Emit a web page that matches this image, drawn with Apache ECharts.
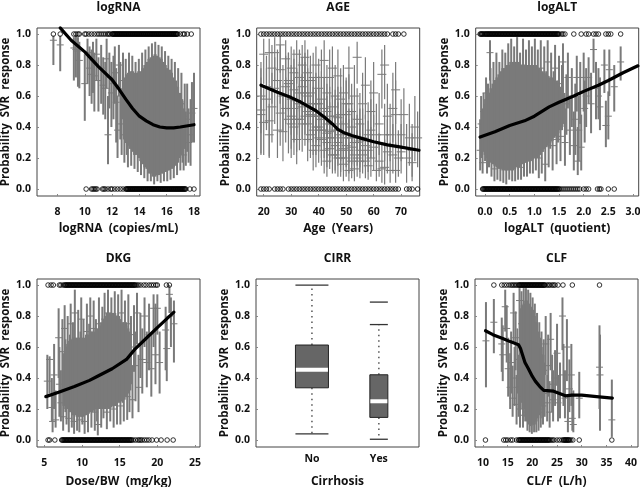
<!DOCTYPE html>
<html><head><meta charset="utf-8"><style>html,body{margin:0;padding:0;background:#fff}#c{width:640px;height:487px}</style>
<script src="https://cdn.jsdelivr.net/npm/echarts@6/dist/echarts.min.js"></script></head>
<body><div id="c"></div><script>
const titles=["logRNA","AGE","logALT","DKG","CIRR","CLF"];
const xNames=["logRNA  (copies/mL)","Age  (Years)","logALT  (quotient)","Dose/BW  (mg/kg)","Cirrhosis","CL/F  (L/h)"];
const yName="Probability  SVR  response";
const yTicks=[0,.2,.4,.6,.8,1];
const xTicks1=[8,10,12,14,16,18],xTicks2=[20,30,40,50,60,70],xTicks3=[0,.5,1,1.5,2,2.5,3],xTicks4=[5,10,15,20,25],xTicks6=[10,15,20,25,30,35,40];
const cirrLabels=["No","Yes"];
// [x, mean, low, high]
const rnaBars=[[7.7,.96,.8,.99],[8.2,.93,.76,.99],[9.2,.91,.7,.98],[9.35,.9,.72,.99],[9.5,.89,.66,.98],[9.6,.83,.65,.95],[10,.68,.44,.87],[10.2,.88,.68,.97],[10.35,.78,.6,.92],[10.5,.74,.55,.9],[10.6,.83,.62,.95],[10.7,.73,.5,.88],[10.85,.87,.7,.97],[11,.7,.5,.85],[11.2,.78,.55,.93],[11.35,.67,.48,.85],[11.5,.65,.45,.82],[11.6,.84,.65,.97],[11.7,.35,.16,.6],[11.8,.72,.52,.88],[11.95,.62,.4,.82],[12.1,.68,.45,.86],[12.2,.75,.55,.92],[12.3,.56,.3,.78],[12.4,.38,.2,.6],[12.5,.8,.6,.93],[12.6,.6,.32,.82],[12.7,.42,.22,.65],[12.8,.7,.45,.88],[12.9,.35,.17,.58],[13,.62,.4,.84],[13.08,.42,.22,.66],[13.16,.3,.14,.52],[13.24,.68,.45,.88],[13.32,.48,.26,.7],[13.4,.3,.15,.5],[13.48,.66,.42,.86],[13.56,.5,.27,.72],[13.64,.28,.13,.5],[13.72,.62,.38,.82],[13.8,.45,.24,.68],[13.88,.27,.11,.48],[13.96,.64,.4,.84],[14.04,.5,.26,.72],[14.12,.24,.09,.46],[14.2,.68,.42,.88],[14.28,.44,.22,.66],[14.36,.22,.07,.44],[14.44,.7,.46,.9],[14.52,.47,.24,.7],[14.6,.2,.05,.42],[14.68,.72,.47,.92],[14.76,.45,.22,.68],[14.84,.21,.05,.43],[14.92,.73,.48,.94],[15,.44,.2,.68],[15.08,.2,.03,.42],[15.16,.74,.5,.95],[15.24,.43,.2,.67],[15.32,.2,.05,.42],[15.4,.72,.48,.93],[15.48,.42,.2,.66],[15.56,.2,.04,.42],[15.64,.72,.46,.92],[15.72,.44,.2,.68],[15.8,.2,.05,.42],[15.88,.68,.44,.89],[15.96,.44,.2,.66],[16.04,.2,.05,.42],[16.12,.66,.42,.86],[16.2,.42,.19,.64],[16.28,.22,.06,.43],[16.36,.62,.4,.84],[16.44,.42,.2,.65],[16.52,.23,.07,.44],[16.6,.62,.38,.82],[16.68,.4,.2,.63],[16.76,.24,.09,.44],[16.84,.56,.34,.78],[16.92,.4,.2,.62],[17,.25,.12,.45],[17.08,.55,.32,.75],[17.16,.36,.17,.57],[17.24,.22,.12,.42],[17.32,.47,.26,.68],[17.4,.3,.15,.5],[17.5,.45,.24,.68],[17.6,.3,.17,.52],[17.75,.35,.15,.58],[17.85,.49,.3,.69],[18,.52,.3,.75]];
// dense middle of each cloud: [x, low, high]
const rnaCore=[[12.9,.32,.72],[13.05,.3,.74],[13.2,.28,.75],[13.35,.26,.76],[13.5,.24,.76],[13.65,.22,.75],[13.8,.22,.75],[13.95,.2,.76],[14.1,.18,.76],[14.25,.16,.78],[14.4,.14,.8],[14.55,.13,.82],[14.7,.1,.84],[14.85,.1,.85],[15,.08,.86],[15.15,.08,.87],[15.3,.09,.86],[15.45,.09,.85],[15.6,.1,.84],[15.75,.1,.82],[15.9,.11,.8],[16.05,.12,.78],[16.2,.12,.77],[16.35,.13,.75],[16.5,.14,.72],[16.65,.15,.7],[16.8,.17,.66],[16.95,.2,.62],[17.1,.22,.58],[17.25,.26,.52]];
const rnaHit=[7.7,8.2,9.2,9.35,9.5,9.6,10,10.1,10.3,10.5,10.7,10.9,11.05,11.2,11.35,11.5,11.65,11.75,11.85,12,12.1,12.2,12.3,12.4,12.5,12.6,12.7,12.8,12.9,13,13.1,13.2,13.3,13.4,13.5,13.6,13.7,13.8,13.9,14,14.1,14.2,14.3,14.4,14.5,14.6,14.7,14.8,14.9,15,15.1,15.2,15.3,15.4,15.5,15.6,15.7,15.8,15.9,16,16.1,16.2,16.3,16.4,16.5,16.6,16.7,16.8,17,17.2,17.3,17.5,17.8];
const rnaHit2=[12.05,12.15,12.25,12.35,12.45,12.55,12.65,12.75,12.85,12.95,13.05,13.15,13.25,13.35,13.45,13.55,13.65,13.75,13.85,13.95,14.05,14.15,14.25,14.35,14.45,14.55,14.65,14.75,14.85,14.95,15.05,15.15,15.25,15.35,15.45,15.55,15.65,15.75,15.85,15.95,16.05,16.15,16.25,16.35,16.45,16.55,16.65,16.75];
const rnaMiss=[10.1,10.5,10.6,10.7,10.8,10.9,11.3,11.4,11.5,11.7,11.9,12,12.2,12.4,12.6,12.8,13,13.1,13.2,13.3,13.4,13.5,13.6,13.7,13.8,13.9,14,14.1,14.2,14.3,14.4,14.5,14.6,14.7,14.8,14.9,15,15.1,15.2,15.3,15.4,15.5,15.6,15.7,15.8,15.9,16,16.1,16.2,16.3,16.4,16.5,16.6,16.7,16.8,16.9,17,17.1,17.2,17.3,17.4,17.7,18];
const rnaMiss2=[13.05,13.15,13.25,13.35,13.45,13.55,13.65,13.75,13.85,13.95,14.05,14.15,14.25,14.35,14.45,14.55,14.65,14.75,14.85,14.95,15.05,15.15,15.25,15.35,15.45,15.55,15.65,15.75,15.85,15.95,16.05,16.15,16.25,16.35,16.45,16.55,16.65,16.75,16.85,16.95,17.05,17.15,17.25,17.35];
const rnaCurve=[[8.2,1.04],[9,.96],[10,.885],[11,.79],[12,.705],[12.5,.645],[13,.58],[13.5,.52],[14,.47],[14.5,.44],[15,.415],[15.5,.4],[16,.395],[16.5,.395],[17,.4],[18,.415]];
const ageBars=[[19,.51,.23,.78],[19,.48,.22,.72],[19,.6,.36,.82],[20,.87,.68,.97],[20,.43,.22,.65],[21,.58,.38,.78],[21,.66,.42,.86],[22,.44,.21,.68],[22,.88,.68,.97],[22,.35,.2,.55],[23,.78,.55,.93],[23,.53,.3,.75],[24,.65,.42,.85],[24,.88,.7,.98],[25,.38,.2,.6],[25,.7,.5,.9],[26,.93,.75,.99],[26,.49,.28,.7],[26,.77,.55,.93],[27,.6,.37,.8],[27,.37,.18,.6],[28,.84,.62,.96],[28,.52,.3,.72],[29,.68,.45,.88],[29,.45,.23,.68],[29,.7,.5,.88],[30,.58,.35,.8],[30,.42,.2,.65],[30,.78,.6,.92],[31,.52,.3,.72],[31,.64,.42,.84],[31,.4,.22,.6],[32,.87,.68,.96],[32,.57,.35,.78],[32,.32,.16,.55],[33,.72,.5,.9],[33,.45,.25,.68],[33,.62,.4,.82],[34,.8,.6,.93],[34,.53,.32,.74],[34,.42,.24,.62],[35,.85,.65,.96],[35,.62,.42,.82],[35,.47,.28,.66],[35,.7,.5,.88],[36,.75,.55,.9],[36,.5,.3,.7],[36,.42,.25,.62],[37,.62,.42,.8],[37,.35,.2,.56],[37,.48,.3,.68],[38,.72,.52,.88],[38,.47,.3,.66],[38,.25,.12,.45],[39,.8,.6,.92],[39,.55,.35,.75],[39,.4,.22,.6],[39,.28,.14,.46],[40,.65,.44,.84],[40,.47,.3,.65],[40,.33,.17,.52],[41,.72,.5,.9],[41,.45,.27,.64],[41,.32,.15,.52],[41,.58,.38,.76],[42,.83,.62,.96],[42,.52,.32,.72],[42,.38,.2,.58],[42,.25,.1,.45],[43,.62,.4,.8],[43,.42,.25,.6],[43,.3,.14,.5],[43,.18,.08,.38],[44,.72,.5,.9],[44,.37,.2,.56],[44,.26,.13,.44],[45,.78,.58,.92],[45,.53,.33,.72],[45,.33,.18,.52],[45,.22,.1,.4],[46,.6,.4,.8],[46,.38,.2,.58],[46,.28,.12,.48],[47,.73,.52,.9],[47,.46,.28,.66],[47,.2,.08,.38],[47,.3,.15,.5],[48,.58,.38,.78],[48,.35,.18,.56],[48,.25,.11,.44],[49,.62,.42,.8],[49,.33,.16,.54],[49,.16,.05,.34],[49,.26,.12,.44],[50,.48,.28,.7],[50,.28,.14,.46],[50,.2,.08,.38],[51,.78,.58,.92],[51,.55,.35,.74],[51,.25,.1,.45],[51,.12,.05,.3],[52,.4,.22,.6],[52,.27,.12,.46],[52,.18,.07,.35],[53,.6,.4,.8],[53,.3,.15,.5],[53,.13,.05,.3],[54,.85,.68,.95],[54,.45,.25,.65],[54,.2,.08,.38],[55,.42,.24,.62],[55,.31,.14,.52],[55,.18,.07,.36],[56,.55,.35,.75],[56,.22,.1,.42],[57,.67,.45,.85],[57,.28,.14,.48],[58,.35,.18,.56],[58,.15,.06,.32],[59,.5,.3,.7],[59,.2,.08,.4],[60,.62,.4,.82],[60,.27,.12,.48],[61,.35,.18,.55],[61,.12,.05,.28],[62,.18,.08,.36],[62,.42,.22,.62],[63,.74,.52,.9],[63,.13,.04,.3],[64,.8,.58,.93],[64,.35,.18,.55],[64,.14,.03,.32],[65,.47,.26,.68],[65,.24,.1,.45],[66,.35,.18,.55],[66,.12,.04,.3],[67,.52,.3,.75],[67,.22,.1,.42],[68,.64,.42,.82],[68,.12,.04,.3],[68,.48,.26,.7],[69,.2,.08,.38],[70,.35,.18,.58],[70,.24,.1,.42],[71,.48,.28,.65],[72,.2,.04,.42],[73,.33,.15,.55],[74,.17,.05,.36],[74,.25,.08,.42],[75,.4,.18,.6],[76,.33,.14,.5],
[28,.66,.42,.86],[30,.47,.26,.7],[31,.75,.55,.9],[32,.45,.24,.66],[33,.55,.33,.75],[34,.66,.45,.85],[35,.55,.35,.74],[36,.6,.4,.78],[36,.32,.18,.5],[37,.7,.5,.86],[38,.55,.36,.72],[38,.38,.22,.56],[39,.47,.3,.64],[40,.55,.36,.73],[40,.4,.24,.58],[41,.38,.2,.56],[42,.45,.28,.62],[43,.5,.32,.68],[43,.36,.2,.54],[44,.47,.3,.66],[44,.33,.17,.5],[45,.42,.26,.6],[46,.47,.3,.64],[46,.22,.1,.38],[47,.38,.22,.56],[48,.48,.3,.66],[48,.2,.08,.36],[49,.42,.26,.6],[50,.36,.2,.54],[50,.55,.36,.72],[51,.33,.17,.52],[52,.33,.16,.52],[52,.5,.3,.68],[53,.22,.1,.4],[54,.3,.15,.48],[55,.25,.11,.44],[56,.33,.17,.52],[57,.18,.07,.34],[58,.25,.11,.44],[59,.38,.2,.58]];
const ageHit=[19,20,21,22,23,24,25,26,27,28,29,30,31,32,33,34,35,36,37,38,39,40,41,42,43,44,45,46,47,48,49,50,51,52,53,54,55,56,57,58,59,60,61,62,63,64,65,67,68,69,71];
const ageMiss=[19,20,21,22,24,25,26,27,29,30,31,32,33,34,35,36,37,38,39,40,41,42,43,44,45,46,47,48,49,50,51,52,53,54,55,56,57,58,59,60,61,62,63,64,65,66,67,68,69,72,73,74,76];
const ageCurve=[[19,.67],[25,.625],[30,.59],[33,.565],[36,.535],[39,.505],[42,.465],[45,.42],[47,.385],[49,.365],[52,.345],[55,.33],[60,.305],[65,.285],[70,.27],[76.5,.25]];
const altBars=[[-.1,.25,.12,.45],[-.08,.42,.2,.6],[-.05,.17,.1,.38],[-.03,.5,.3,.62],[0,.36,.18,.58],[.02,.62,.4,.72],[.04,.25,.1,.42],[.06,.46,.25,.68],[.08,.3,.14,.52],[.1,.88,.7,.96],[.11,.58,.36,.78],[.13,.2,.08,.38],[.15,.42,.22,.64],[.17,.6,.38,.82],[.19,.13,.05,.33],[.21,.35,.16,.56],[.23,.7,.45,.88],[.25,.22,.06,.42],[.27,.48,.25,.7],[.29,.62,.4,.82],[.31,.14,.05,.34],[.33,.38,.18,.6],[.35,.72,.5,.9],[.37,.2,.04,.4],[.39,.5,.28,.72],[.41,.68,.45,.88],[.43,.14,.03,.35],[.45,.36,.17,.58],[.47,.74,.52,.94],[.49,.2,.06,.42],[.51,.52,.28,.74],[.53,.76,.55,.97],[.55,.16,.05,.36],[.57,.4,.2,.62],[.59,.72,.5,.92],[.61,.15,.05,.35],[.63,.55,.32,.76],[.65,.77,.56,.98],[.67,.2,.06,.42],[.69,.36,.18,.6],[.71,.68,.45,.88],[.73,.14,.06,.34],[.75,.5,.28,.72],[.77,.8,.58,.97],[.79,.2,.08,.42],[.81,.38,.18,.6],[.83,.7,.48,.9],[.85,.18,.08,.38],[.87,.52,.3,.74],[.89,.76,.55,.96],[.91,.22,.1,.44],[.93,.4,.2,.62],[.95,.72,.5,.92],[.97,.2,.1,.42],[.99,.55,.32,.78],[1.01,.78,.58,.97],[1.03,.26,.12,.48],[1.05,.42,.22,.64],[1.07,.7,.48,.9],[1.09,.2,.07,.42],[1.11,.55,.32,.76],[1.13,.78,.55,.96],[1.15,.26,.1,.48],[1.17,.44,.24,.66],[1.2,.72,.5,.92],[1.22,.16,.05,.36],[1.24,.55,.34,.76],[1.27,.82,.6,.96],[1.29,.32,.14,.52],[1.32,.46,.26,.68],[1.34,.7,.5,.88],[1.37,.28,.12,.48],[1.39,.56,.34,.76],[1.42,.78,.58,.93],[1.45,.32,.16,.54],[1.48,.5,.3,.7],[1.5,.68,.48,.86],[1.53,.34,.18,.54],[1.56,.6,.38,.8],[1.58,.82,.62,.94],[1.62,.3,.15,.52],[1.65,.55,.35,.74],[1.68,.72,.52,.88],[1.72,.38,.22,.58],[1.76,.6,.4,.78],[1.8,.28,.12,.5],[1.83,.45,.22,.68],[1.86,.72,.5,.86],[1.88,.18,.09,.4],[1.9,.38,.18,.6],[1.93,.62,.42,.82],[1.95,.27,.12,.48],[2,.72,.5,.88],[2.02,.52,.3,.7],[2.05,.6,.4,.78],[2.1,.72,.55,.85],[2.15,.55,.36,.75],[2.2,.9,.75,.97],[2.25,.65,.45,.82],[2.3,.6,.45,.78],[2.33,.53,.38,.72],[2.42,.8,.62,.9],[2.45,.41,.27,.57],[2.5,.47,.32,.63],[2.52,.77,.6,.9],[2.62,.66,.5,.8],[2.75,.82,.7,.92]];
const altCore=[[-.04,.24,.52],[0,.22,.55],[.04,.2,.58],[.08,.18,.62],[.12,.17,.65],[.16,.16,.68],[.2,.15,.7],[.24,.14,.72],[.28,.13,.74],[.32,.13,.76],[.36,.12,.78],[.4,.12,.78],[.44,.12,.8],[.48,.12,.8],[.52,.12,.82],[.56,.12,.82],[.6,.13,.82],[.64,.14,.82],[.68,.14,.82],[.72,.15,.8],[.76,.16,.8],[.8,.17,.8],[.84,.17,.8],[.88,.18,.8],[.92,.18,.8],[.96,.19,.8],[1,.2,.8],[1.04,.2,.8],[1.08,.2,.78],[1.12,.22,.78],[1.16,.24,.76],[1.2,.26,.75],[1.24,.27,.74],[1.28,.28,.73],[1.32,.3,.72],[1.36,.31,.72],[1.4,.33,.7],[1.44,.34,.7],[1.48,.36,.68],[1.52,.38,.66],[1.56,.4,.65],[1.6,.42,.62]];
const altHit=[-.1,-.07,-.04,0,.03,.06,.09,.12,.15,.18,.21,.24,.27,.3,.33,.36,.39,.42,.45,.48,.51,.54,.57,.6,.63,.66,.69,.72,.75,.78,.81,.84,.87,.9,.93,.96,.99,1.02,1.05,1.08,1.11,1.14,1.17,1.2,1.23,1.26,1.29,1.32,1.35,1.38,1.41,1.44,1.47,1.5,1.55,1.58,1.62,1.8,1.95,2.05,2.1,2.2,2.25,2.3,2.45,2.5,2.55,2.75];
const altHit2=[-.085,-.055,-.02,.015,.045,.075,.105,.135,.165,.195,.225,.255,.285,.315,.345,.375,.405,.435,.465,.495,.525,.555,.585,.615,.645,.675,.705,.735,.765,.795,.825,.855,.885,.915,.945,.975,1.005,1.035,1.065,1.095,1.125,1.155,1.185,1.215,1.245,1.275,1.305,1.335,1.365,1.395,1.425,1.455,1.485];
const altMiss=[-.05,-.02,.01,.04,.07,.1,.13,.16,.19,.22,.25,.28,.31,.34,.37,.4,.43,.46,.49,.52,.55,.58,.61,.64,.67,.7,.73,.76,.79,.82,.85,.88,.91,.94,.97,1,1.03,1.06,1.09,1.12,1.15,1.18,1.21,1.24,1.27,1.3,1.33,1.36,1.39,1.42,1.45,1.48,1.52,1.56,1.6,1.64,1.68,1.72,1.76,1.8,1.84,1.88,1.92,2,2.05,2.1,2.28,2.32,2.35,2.5,2.62];
const altMiss2=[-.035,-.005,.025,.055,.085,.115,.145,.175,.205,.235,.265,.295,.325,.355,.385,.415,.445,.475,.505,.535,.565,.595,.625,.655,.685,.715,.745,.775,.805,.835,.865,.895,.925,.955,.985,1.015,1.045,1.075,1.105,1.135,1.165,1.195,1.225,1.255,1.285,1.315,1.345,1.375,1.405,1.435,1.465,1.5];
const altCurve=[[-.1,.335],[.2,.37],[.5,.41],[.8,.44],[1,.47],[1.3,.53],[1.5,.56],[1.8,.6],[2,.63],[2.3,.67],[2.5,.7],[2.8,.75],[3.1,.795]];
const dkgBars=[[5.4,.38,.2,.55],[5.7,.52,.3,.54],[6,.21,.12,.4],[6.1,.12,.05,.3],[6.3,.42,.2,.62],[6.5,.13,.08,.32],[6.9,.66,.4,.85],[7,.36,.15,.6],[7.2,.24,.12,.45],[7.4,.57,.3,.78],[7.5,.15,.06,.38],[7.7,.72,.5,.87],[7.8,.42,.18,.65],[7.95,.26,.1,.48],[8.1,.6,.35,.8],[8.25,.14,.05,.35],[8.4,.45,.22,.68],[8.5,.75,.5,.88],[8.65,.28,.08,.5],[8.8,.55,.3,.76],[8.95,.12,.04,.32],[9.05,.82,.6,.97],[9.2,.4,.18,.62],[9.35,.22,.06,.42],[9.5,.65,.4,.84],[9.65,.13,.05,.33],[9.8,.48,.22,.7],[9.9,.78,.55,.92],[10.05,.3,.1,.5],[10.2,.58,.32,.78],[10.35,.12,.04,.3],[10.5,.42,.2,.65],[10.65,.7,.45,.88],[10.8,.2,.05,.42],[10.95,.52,.28,.75],[11.1,.8,.58,.92],[11.25,.25,.08,.45],[11.4,.45,.22,.68],[11.55,.72,.48,.9],[11.7,.18,.06,.38],[11.85,.55,.3,.78],[12,.32,.12,.52],[12.1,.1,.03,.28],[12.25,.75,.52,.92],[12.4,.45,.22,.68],[12.55,.22,.08,.42],[12.7,.65,.4,.86],[12.85,.32,.14,.55],[13,.78,.55,.95],[13.15,.5,.26,.72],[13.3,.18,.07,.38],[13.45,.82,.6,.97],[13.6,.42,.2,.65],[13.75,.28,.12,.5],[13.9,.72,.5,.92],[14.05,.55,.32,.76],[14.2,.2,.08,.42],[14.35,.8,.58,.96],[14.5,.45,.22,.68],[14.65,.3,.1,.52],[14.8,.72,.5,.94],[14.95,.55,.32,.76],[15.1,.22,.1,.42],[15.25,.82,.6,.97],[15.4,.45,.24,.68],[15.55,.3,.12,.5],[15.7,.7,.48,.9],[15.85,.55,.32,.76],[16,.28,.13,.48],[16.15,.75,.52,.94],[16.3,.4,.18,.62],[16.5,.6,.36,.8],[16.7,.26,.14,.48],[16.9,.68,.44,.87],[17.1,.48,.25,.7],[17.3,.82,.62,.95],[17.5,.34,.18,.55],[17.75,.62,.4,.82],[18,.52,.3,.72],[18.3,.8,.6,.92],[18.6,.5,.34,.7],[18.9,.68,.45,.88],[19.2,.46,.28,.68],[19.5,.85,.6,.94],[19.75,.55,.36,.88],[20,.85,.68,.94],[20.3,.5,.3,.7],[21.1,.71,.45,.86],[21.25,.59,.38,.8],[21.6,.94,.82,1],[21.8,.8,.6,.92],[22.2,.75,.5,.9]];
const dkgCore=[[7.6,.22,.56],[7.85,.2,.6],[8.1,.2,.62],[8.35,.18,.64],[8.6,.18,.65],[8.85,.16,.66],[9.1,.16,.66],[9.35,.15,.66],[9.6,.15,.66],[9.85,.15,.66],[10.1,.15,.66],[10.35,.16,.66],[10.6,.16,.68],[10.85,.17,.68],[11.1,.18,.7],[11.35,.18,.7],[11.6,.19,.7],[11.85,.2,.72],[12.1,.2,.72],[12.35,.2,.74],[12.6,.2,.76],[12.85,.2,.78],[13.1,.2,.8],[13.35,.2,.82],[13.6,.21,.82],[13.85,.21,.82],[14.1,.22,.82],[14.35,.22,.82],[14.6,.23,.8],[14.85,.24,.8],[15.1,.25,.78],[15.35,.25,.76],[15.6,.26,.76],[15.85,.28,.74],[16.1,.3,.72],[16.35,.32,.7]];
const dkgHit=[5.5,5.9,6.2,7,7.2,7.5,7.7,7.9,8.1,8.3,8.5,8.7,8.9,9.1,9.3,9.5,9.7,9.9,10.1,10.3,10.5,10.7,10.9,11.1,11.3,11.5,11.7,11.9,12.1,12.3,12.5,12.7,12.9,13.1,13.3,13.5,13.7,13.9,14.1,14.3,14.5,14.7,14.9,15.1,15.3,15.5,15.7,15.9,16.1,16.3,16.5,16.7,16.9,17.1,17.3,17.5,17.8,18.2,18.5,18.9,19.2,19.5,19.8,20,21.2,21.6];
const dkgHit2=[7.8,8,8.2,8.4,8.6,8.8,9,9.2,9.4,9.6,9.8,10,10.2,10.4,10.6,10.8,11,11.2,11.4,11.6,11.8,12,12.2,12.4,12.6,12.8,13,13.2,13.4,13.6,13.8,14,14.2,14.4,14.6,14.8,15,15.2,15.4,15.6,15.8,16,16.2,16.4,16.6,16.8,17];
const dkgMiss=[5.5,5.7,6.4,7.3,7.5,7.7,7.9,8.1,8.3,8.5,8.7,8.9,9.1,9.3,9.5,9.7,9.9,10.1,10.3,10.5,10.7,10.9,11.1,11.3,11.5,11.7,11.9,12.1,12.3,12.5,12.7,12.9,13.1,13.3,13.5,13.7,13.9,14.1,14.3,14.5,14.7,14.9,15.1,15.3,15.5,15.7,15.9,16.1,16.3,16.5,16.8,17.1,17.4,17.6,17.8,18,18.3,18.6,18.9,19.3,19.9,20.5,21.3,22.1];
const dkgMiss2=[7.4,7.6,7.8,8,8.2,8.4,8.6,8.8,9,9.2,9.4,9.6,9.8,10,10.2,10.4,10.6,10.8,11,11.2,11.4,11.6,11.8,12,12.2,12.4,12.6,12.8,13,13.2,13.4,13.6,13.8,14,14.2,14.4,14.6,14.8,15,15.2,15.4,15.6,15.8,16,16.2,16.4,16.6];
const dkgCurve=[[5.2,.28],[7,.31],[9,.345],[11,.385],[12,.41],[14,.46],[15.9,.52],[17,.585],[18.6,.66],[20,.725],[22.2,.825]];
const clfBars=[[10.6,.64,.34,.89],[12.2,.76,.56,.91],[13.8,.62,.44,.79],[14,.55,.38,.74],[14.5,.86,.7,.97],[14.8,.72,.5,.87],[15.1,.46,.28,.66],[15.5,.34,.2,.56],[15.7,.5,.3,.7],[16,.27,.15,.48],[16.2,.82,.62,.95],[16.4,.4,.22,.6],[16.6,.66,.45,.83],[16.8,.23,.1,.42],[17,.52,.3,.72],[17.2,.34,.15,.55],[17.4,.9,.72,.98],[17.5,.2,.08,.4],[17.65,.62,.38,.82],[17.8,.75,.55,.96],[17.95,.4,.2,.62],[18.1,.16,.08,.36],[18.25,.82,.6,.98],[18.4,.55,.3,.78],[18.55,.3,.12,.52],[18.7,.8,.6,.98],[18.85,.5,.25,.72],[19,.18,.06,.4],[19.15,.76,.55,.97],[19.3,.46,.22,.7],[19.45,.2,.05,.4],[19.6,.75,.52,.95],[19.75,.42,.2,.66],[19.9,.18,.04,.38],[20.05,.7,.48,.92],[20.2,.42,.2,.65],[20.35,.18,.05,.38],[20.5,.66,.42,.88],[20.65,.38,.18,.6],[20.8,.17,.05,.36],[20.95,.6,.38,.82],[21.1,.36,.16,.58],[21.25,.18,.06,.38],[21.4,.55,.32,.76],[21.55,.34,.16,.55],[21.7,.2,.08,.38],[21.85,.48,.28,.7],[22,.32,.14,.52],[22.15,.22,.1,.4],[22.3,.45,.22,.65],[22.5,.3,.15,.5],[22.7,.62,.42,.8],[23,.24,.12,.42],[23.2,.48,.28,.68],[23.5,.18,.08,.38],[23.7,.65,.45,.82],[24,.36,.18,.55],[24.2,.26,.12,.45],[24.6,.4,.22,.58],[25,.56,.35,.75],[25.2,.24,.12,.42],[25.6,.3,.14,.5],[26.1,.8,.58,.92],[26.3,.42,.22,.62],[26.6,.27,.14,.45],[27,.6,.38,.78],[27.2,.12,.05,.28],[27.5,.33,.18,.52],[27.9,.42,.22,.62],[28.1,.14,.06,.3],[28.3,.1,.05,.32],[29.5,.27,.14,.44],[33.6,.47,.2,.74],[33.7,.42,.06,.68],[36.1,.13,.02,.39]];
const clfCore=[[17.6,.28,.85],[17.95,.24,.87],[18.3,.2,.88],[18.65,.15,.9],[19,.12,.9],[19.35,.1,.88],[19.7,.09,.86],[20.05,.1,.84],[20.4,.1,.8],[20.75,.12,.76],[21.1,.14,.7],[21.45,.17,.66],[21.8,.22,.6],[22.15,.26,.55]];
const clfHit=[12.2,13.8,14.3,14.8,15.3,15.7,16,16.3,16.6,16.9,17.2,17.5,17.8,18.1,18.4,18.7,19,19.3,19.6,19.9,20.2,20.5,20.8,21.1,21.4,21.7,22,22.3,22.6,23,23.3,23.6,24,24.3,24.6,25.2,26.2,28.1,33.6];
const clfHit2=[17.35,17.65,17.95,18.25,18.55,18.85,19.15,19.45,19.75,20.05,20.35,20.65,20.95,21.25,21.55,21.85,22.15,22.45];
const clfMiss=[10.5,14.2,14.6,15,15.6,16,16.8,17.2,17.5,17.8,18.1,18.4,18.7,19,19.3,19.6,19.9,20.2,20.5,20.8,21.1,21.4,21.7,22,22.3,22.6,22.9,23.2,23.5,23.8,24.1,24.4,25,25.5,26,26.3,26.6,26.9,27.2,27.5,27.8,28.2,29.5,36.1];
const clfMiss2=[17.35,17.65,17.95,18.25,18.55,18.85,19.15,19.45,19.75,20.05,20.35,20.65,20.95,21.25,21.55,21.85,22.15,22.45,22.75,23.05,23.35,26.45,26.75,27.05,27.35];
const clfCurve=[[10.5,.705],[12,.68],[14,.655],[15.5,.635],[17.2,.615],[17.6,.59],[18,.55],[18.5,.5],[19.2,.46],[20,.41],[20.6,.38],[21.5,.345],[22.3,.32],[24.3,.315],[25.5,.3],[26.7,.285],[28,.29],[30,.29],[33,.28],[36.2,.27]];
// [category position, low whisker, q1, median, q3, high whisker]
const cirrBoxes=[[1,.04,.337,.453,.613,1],[2,.005,.146,.25,.421,.745]];
const cirrOutliers=[[2,.89]];

const FONT="'Open Sans'";
const geo=[
 {l:37,t:28,min:6.5,max:18.44,ticks:xTicks1,d:0},
 {l:256.7,t:28,min:17.45,max:76.76,ticks:xTicks2,d:0},
 {l:475.7,t:28,min:-.19,max:3.116,ticks:xTicks3,d:1},
 {l:37,t:279,min:4.03,max:25.66,ticks:xTicks4,d:0},
 {l:256,t:279,min:.164,max:2.6,ticks:[1,2],d:-1},
 {l:475,t:279,min:8.38,max:41.4,ticks:xTicks6,d:0}];
const W=163,H=168;
const grids=[],xA=[],yA=[],ttl=[];
geo.forEach((g,i)=>{
 grids.push({left:g.l,top:g.t,width:W,height:H,show:true,borderColor:'#444',borderWidth:1,backgroundColor:'#fff',outerBoundsMode:'none'});
 xA.push({type:'value',gridIndex:i,min:g.min,max:g.max,splitLine:{show:false},axisLine:{show:false,onZero:false},
  axisTick:{show:i!==4,inside:true,length:2,lineStyle:{color:'#888'},customValues:g.ticks},
  axisLabel:{customValues:g.ticks,margin:i==4?7:10.5,fontFamily:FONT,fontWeight:'bold',fontSize:10.5,color:'#111',
   formatter:v=>g.d<0?cirrLabels[Math.round(v)-1]:(g.d?(+v).toFixed(1):String(v))},
  name:xNames[i],nameLocation:'middle',nameGap:i>2?29:27,nameTextStyle:{fontFamily:FONT,fontWeight:'bold',fontSize:12,color:'#111'}});
 yA.push({type:'value',gridIndex:i,min:-.045,max:1.039,splitLine:{show:false},axisLine:{show:false,onZero:false},
  axisTick:{show:true,inside:true,length:2,lineStyle:{color:'#888'},customValues:yTicks},
  axisLabel:{customValues:yTicks,margin:6,fontFamily:FONT,fontWeight:'bold',fontSize:10.5,color:'#111',formatter:v=>(+v).toFixed(1)},
  name:yName,nameLocation:'middle',nameGap:24,nameRotate:90,nameTextStyle:{fontFamily:FONT,fontWeight:'bold',fontSize:11.5,color:'#111'}});
 ttl.push({text:titles[i],left:g.l+W/2,top:g.t-26,padding:0,textAlign:'center',textStyle:{fontFamily:FONT,fontWeight:'bold',fontSize:12,color:'#111'}});
});
const BAR='#7a7a7a';
const errSeries=(i,rows,cap,w)=>({type:'custom',xAxisIndex:i,yAxisIndex:i,data:rows,clip:false,z:2,encode:{x:0,y:1},silent:true,
 renderItem:(p,api)=>{const x=api.value(0),a=api.coord([x,api.value(2)]),b=api.coord([x,api.value(3)]),m=api.coord([x,api.value(1)]);
  return {type:'group',children:[
   {type:'line',shape:{x1:a[0],y1:a[1],x2:b[0],y2:b[1]},style:{stroke:BAR,lineWidth:w}},
   {type:'line',shape:{x1:m[0]-cap,y1:m[1],x2:m[0]+cap,y2:m[1]},style:{stroke:BAR,lineWidth:1}}]};}});
const coreSeries=(i,rows)=>({type:'custom',xAxisIndex:i,yAxisIndex:i,data:rows,clip:false,z:2,encode:{x:0,y:[1,2]},silent:true,
 renderItem:(p,api)=>{const x=api.value(0),a=api.coord([x,api.value(1)]),b=api.coord([x,api.value(2)]);
  return {type:'line',shape:{x1:a[0],y1:a[1],x2:b[0],y2:b[1]},style:{stroke:BAR,lineWidth:3}};}});
const ptsSeries=(i,xs,y)=>({type:'scatter',xAxisIndex:i,yAxisIndex:i,data:xs.map(v=>[v,y]),symbol:'circle',symbolSize:4.6,z:3,silent:true,clip:false,
 itemStyle:{color:'rgba(255,255,255,0)',borderColor:'#000',borderWidth:1}});
const curveSeries=(i,rows)=>({type:'line',xAxisIndex:i,yAxisIndex:i,data:rows,showSymbol:false,smooth:false,z:4,silent:true,clip:false,
 lineStyle:{color:'#000',width:3.2,join:'round',cap:'round'}});
const boxHalf=[16.5,9];
const boxSeries={type:'custom',xAxisIndex:4,yAxisIndex:4,data:cirrBoxes,z:2,silent:true,encode:{x:0,y:3},
 renderItem:(p,api)=>{const x=api.value(0),c=y=>api.coord([x,y]),hw=boxHalf[p.dataIndex];
  const lo=c(api.value(1)),q1=c(api.value(2)),md=c(api.value(3)),q3=c(api.value(4)),hi=c(api.value(5));
  const dot={stroke:'#555',lineWidth:1.5,lineDash:[1.5,4]},capS={stroke:'#333',lineWidth:1.3};
  const ln=(x1,y1,x2,y2,s)=>({type:'line',shape:{x1,y1,x2,y2},style:s});
  return {type:'group',children:[
   ln(q3[0],q3[1],hi[0],hi[1],dot),ln(q1[0],q1[1],lo[0],lo[1],dot),
   ln(hi[0]-hw,hi[1],hi[0]+hw,hi[1],capS),ln(lo[0]-hw,lo[1],lo[0]+hw,lo[1],capS),
   {type:'rect',shape:{x:q3[0]-hw,y:q3[1],width:2*hw,height:q1[1]-q3[1]},style:{fill:'#666',stroke:'#222',lineWidth:1}},
   ln(md[0]-hw+.5,md[1],md[0]+hw-.5,md[1],{stroke:'#fff',lineWidth:4})]};}};
const outSeries={type:'custom',xAxisIndex:4,yAxisIndex:4,data:cirrOutliers,z:2,silent:true,encode:{x:0,y:1},
 renderItem:(p,api)=>{const c=api.coord([api.value(0),api.value(1)]);return {type:'line',shape:{x1:c[0]-9,y1:c[1],x2:c[0]+9,y2:c[1]},style:{stroke:'#333',lineWidth:1.3}};}};
const panels=[[0,rnaBars,rnaCore,rnaHit.concat(rnaHit2),rnaMiss.concat(rnaMiss2),rnaCurve,2,3.5],[1,ageBars,null,ageHit,ageMiss,ageCurve,1.2,4.5],[2,altBars,altCore,altHit.concat(altHit2),altMiss.concat(altMiss2),altCurve,2,3.5],[3,dkgBars,dkgCore,dkgHit.concat(dkgHit2),dkgMiss.concat(dkgMiss2),dkgCurve,2,3.5],[5,clfBars,clfCore,clfHit.concat(clfHit2),clfMiss.concat(clfMiss2),clfCurve,2,3.5]];
const series=[];
panels.forEach(([i,b,k,h,m,c,w,cap])=>{series.push(errSeries(i,b,cap,w));if(k)series.push(coreSeries(i,k));series.push(ptsSeries(i,h,1),ptsSeries(i,m,0),curveSeries(i,c));});
series.push(boxSeries,outSeries);
const chart=echarts.init(document.getElementById('c'),null,{renderer:'canvas'});
chart.setOption({animation:false,backgroundColor:'#fff',title:ttl,grid:grids,xAxis:xA,yAxis:yA,series});
</script></body></html>
